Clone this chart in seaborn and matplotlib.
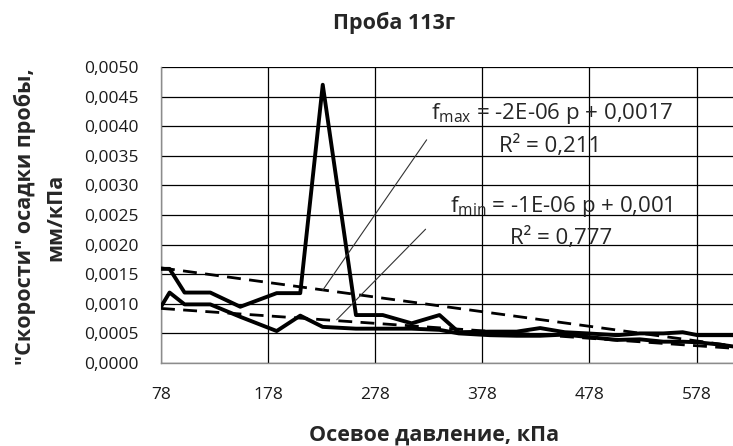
import numpy as np
import pandas as pd
import seaborn as sns
from matplotlib import pyplot as plt
from matplotlib.ticker import FuncFormatter

# осевое давление, кПа
pressure = [78, 86, 100, 124, 152, 186, 208, 229, 260, 285, 312, 338, 356,
            385, 410, 432, 455, 476, 504, 525, 547, 565, 579, 600, 612]
# "скорость" осадки, мм/кПа
f_max = [0.00159, 0.00159, 0.00119, 0.00119, 0.00095, 0.00118, 0.00118, 0.00470,
         0.00081, 0.00081, 0.00067, 0.00081, 0.00052, 0.00053, 0.00053, 0.00059,
         0.00052, 0.00050, 0.00047, 0.00050, 0.00050, 0.00052, 0.00047, 0.00047, 0.00047]
f_min = [0.00095, 0.00119, 0.00099, 0.00099, 0.00078, 0.00054, 0.00080, 0.00061,
         0.00058, 0.00058, 0.00058, 0.00056, 0.00050, 0.00047, 0.00046, 0.00046,
         0.00048, 0.00044, 0.00039, 0.00040, 0.00036, 0.00036, 0.00035, 0.00031, 0.00028]

xticks = [78, 178, 278, 378, 478, 578]
yticks = np.arange(0, 0.00501, 0.0005)

eq_max = "f$_{\\mathrm{max}}$ = -2E-06 p + 0,0017"
r2_max = "R² = 0,211"
eq_min = "f$_{\\mathrm{min}}$ = -1E-06 p + 0,001"
r2_min = "R² = 0,777"
# выноски от подписей к линиям тренда
lead_max_x, lead_max_y = [326, 229], [0.00377, 0.00123]
lead_min_x, lead_min_y = [325, 242], [0.00226, 0.00073]

df = pd.DataFrame({'p': pressure, 'fmax': f_max, 'fmin': f_min})

sns.set_style('white')
plt.rcParams['font.family'] = ['Open Sans', 'DejaVu Sans']
plt.rcParams['mathtext.fontset'] = 'custom'
plt.rcParams['mathtext.rm'] = 'Open Sans'

fig = plt.figure(figsize=(7.33, 4.46), dpi=100)
ax = fig.add_axes([161 / 733, 1 - 363 / 446, 572 / 733, 296 / 446])

for col in ['fmax', 'fmin']:
    sns.lineplot(data=df, x='p', y=col, ax=ax, color='black', lw=2.8, zorder=3)
    sns.regplot(data=df, x='p', y=col, ax=ax, scatter=False, ci=None,
                line_kws=dict(color='black', lw=2.0, ls=(0, (5, 3)), zorder=4))

ax.plot(lead_max_x, lead_max_y, color='#333333', lw=0.8, zorder=5)
ax.plot(lead_min_x, lead_min_y, color='#333333', lw=0.8, zorder=5)

ax.set_xlim(78, 612)
ax.set_ylim(0, 0.005)
ax.set_xticks(xticks)
ax.set_yticks(yticks)
ax.yaxis.set_major_formatter(FuncFormatter(lambda v, _: f"{v:.4f}".replace('.', ',')))
ax.grid(True, color='black', lw=0.9)
ax.set_axisbelow(True)
for s in ['top', 'right']:
    ax.spines[s].set_visible(False)
for s in ['left', 'bottom']:
    ax.spines[s].set_color('#8c8c8c')
    ax.spines[s].set_linewidth(1.0)
ax.tick_params(axis='both', direction='out', length=6, color='#8c8c8c',
               labelsize=12.5, labelcolor='#1a1a1a')
ax.tick_params(axis='y', pad=10)
ax.tick_params(axis='x', pad=11)
ax.set_xlabel('')
ax.set_ylabel('')

ax.text(443, 0.00422, eq_max, ha='center', va='center', fontsize=16, zorder=6)
ax.text(441, 0.00366, r2_max, ha='center', va='center', fontsize=16, zorder=6)
ax.text(452, 0.00265, eq_min, ha='center', va='center', fontsize=16, zorder=6)
ax.text(452, 0.00211, r2_min, ha='center', va='center', fontsize=16, zorder=6)

fig.text(394 / 733, 1 - 23 / 446, 'Проба 113г', ha='center', va='center',
         fontsize=15.5, fontweight='bold')
fig.text(434 / 733, 1 - 435 / 446, 'Осевое давление, кПа', ha='center', va='center',
         fontsize=15.5, fontweight='bold')
fig.text(40 / 733, 1 - 217 / 446, '"Скорости" осадки пробы,\nмм/кПа', ha='center',
         va='center', rotation=90, fontsize=15.5, fontweight='bold', linespacing=1.55)

plt.savefig('out.png', dpi=100)
